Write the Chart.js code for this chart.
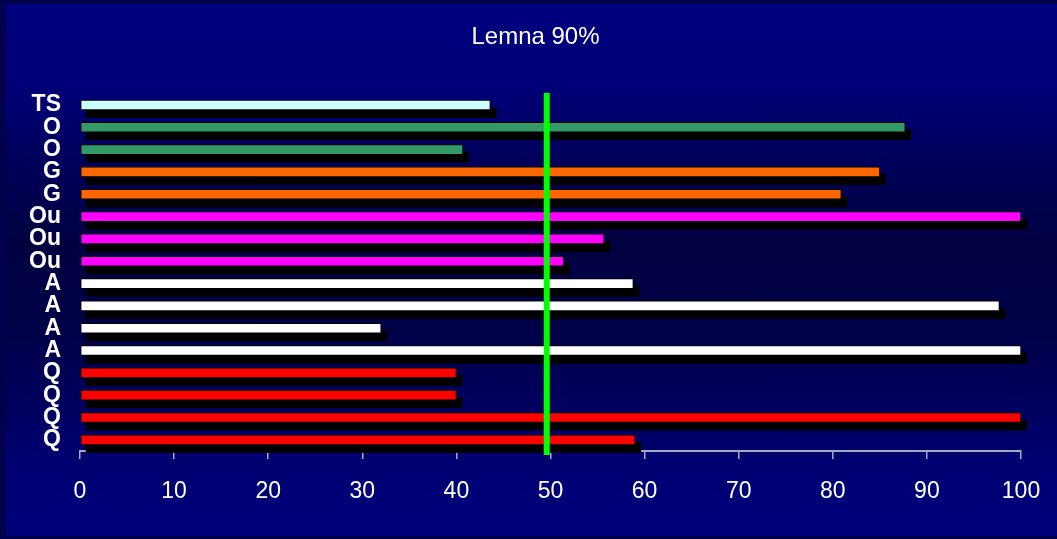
<!DOCTYPE html>
<html>
<head>
<meta charset="utf-8">
<title>Lemna 90%</title>
<script src="https://cdn.jsdelivr.net/npm/chart.js@4.4.1/dist/chart.umd.min.js"></script>
<style>
  html, body { margin: 0; padding: 0; width: 1057px; height: 539px; overflow: hidden; background: #000030; }
  #frame { position: absolute; left: 0; top: 0; width: 1057px; height: 539px; background: #00004c; }
  #slide {
    position: absolute; left: 6px; top: 4px; width: 1051px; height: 532px;
    background: linear-gradient(to bottom, #000080 0%, #000076 16%, #00005a 30%, #000040 45%, #000046 60%, #00005e 75%, #000074 88%, #00007a 100%);
  }
  #wrap { position: absolute; left: 0; top: 0; width: 1057px; height: 539px; }
</style>
</head>
<body>
<div id="frame"></div>
<div id="slide"></div>
<div id="wrap"><canvas id="chart" width="1057" height="539"></canvas></div>
<script>
// Categories, top to bottom
const categories = ['TS', 'O', 'O', 'G', 'G', 'Ou', 'Ou', 'Ou', 'A', 'A', 'A', 'A', 'Q', 'Q', 'Q', 'Q'];
// Percentage per bar
const values = [43.6, 87.7, 40.7, 85.0, 80.9, 100, 55.7, 51.4, 58.8, 97.7, 32.0, 100, 40.0, 40.0, 100, 59.0];
// Fill colour per bar (one per group)
const barColors = ['#CCFFFF', '#339966', '#339966', '#FF6600', '#FF6600', '#FF00FF', '#FF00FF', '#FF00FF',
                   '#FFFFFF', '#FFFFFF', '#FFFFFF', '#FFFFFF', '#FF0000', '#FF0000', '#FF0000', '#FF0000'];
// Reference level marked by the vertical line
const threshold = 49.6;
// Value axis
const xMin = 0, xMax = 100, xStep = 10;

// Black drop shadow behind each bar
const barShadow = {
  id: 'barShadow',
  beforeDatasetsDraw(chart) {
    const ctx = chart.ctx;
    ctx.save();
    ctx.fillStyle = '#000000';
    chart.getDatasetMeta(0).data.forEach(bar => {
      const { x, y, base, height } = bar.getProps(['x', 'y', 'base', 'height'], true);
      ctx.fillRect(base + 5, y - height / 2 + 7, x - base + 1, height + 1);
    });
    ctx.restore();
  }
};

// Vertical reference line
const refLine = {
  id: 'refLine',
  afterDatasetsDraw(chart) {
    const ctx = chart.ctx;
    const area = chart.chartArea;
    const px = chart.scales.x.getPixelForValue(threshold);
    ctx.save();
    ctx.fillStyle = '#00FF00';
    ctx.fillRect(px - 3, area.top - 1, 6, area.bottom - area.top + 5);
    ctx.restore();
  }
};

// Nudge the title a little to the right of the canvas centre
const titleShift = {
  id: 'titleShift',
  afterLayout(chart) {
    const t = chart.titleBlock;
    if (t) { t.left += 15; t.right += 15; }
  }
};

new Chart(document.getElementById('chart'), {
  type: 'bar',
  data: {
    labels: categories,
    datasets: [{
      data: values,
      backgroundColor: barColors,
      borderColor: '#000000',
      borderWidth: 1,
      borderSkipped: false,
      barThickness: 10
    }]
  },
  options: {
    indexAxis: 'y',
    responsive: false,
    animation: false,
    layout: { padding: { left: 20, right: 36, top: 0, bottom: 0 } },
    plugins: {
      legend: { display: false },
      tooltip: { enabled: false },
      title: {
        display: true,
        text: 'Lemna 90%',
        color: '#FFFFFF',
        font: { family: '"Liberation Sans", Arial, sans-serif', size: 24, weight: 'normal' },
        padding: { top: 23, bottom: 42 }
      }
    },
    scales: {
      x: {
        min: xMin,
        max: xMax,
        afterFit(scale) { scale.height = 88; scale.paddingRight = 0; },
        ticks: {
          stepSize: xStep,
          color: '#FFFFFF',
          font: { family: '"Liberation Sans", Arial, sans-serif', size: 23 },
          padding: 19
        },
        grid: { drawOnChartArea: false, drawTicks: true, tickLength: 8, color: '#A8A8C0', lineWidth: 1.5 },
        border: { display: true, color: '#A8A8C0', width: 2 }
      },
      y: {
        afterFit(scale) { scale.width = 60; },
        grid: { display: false, drawTicks: false },
        border: { display: false },
        ticks: {
          autoSkip: false,
          color: '#FFFFFF',
          font: { family: '"Liberation Sans", Arial, sans-serif', size: 23, weight: 'bold' },
          padding: 19
        }
      }
    }
  },
  plugins: [barShadow, refLine, titleShift]
});
</script>
</body>
</html>
